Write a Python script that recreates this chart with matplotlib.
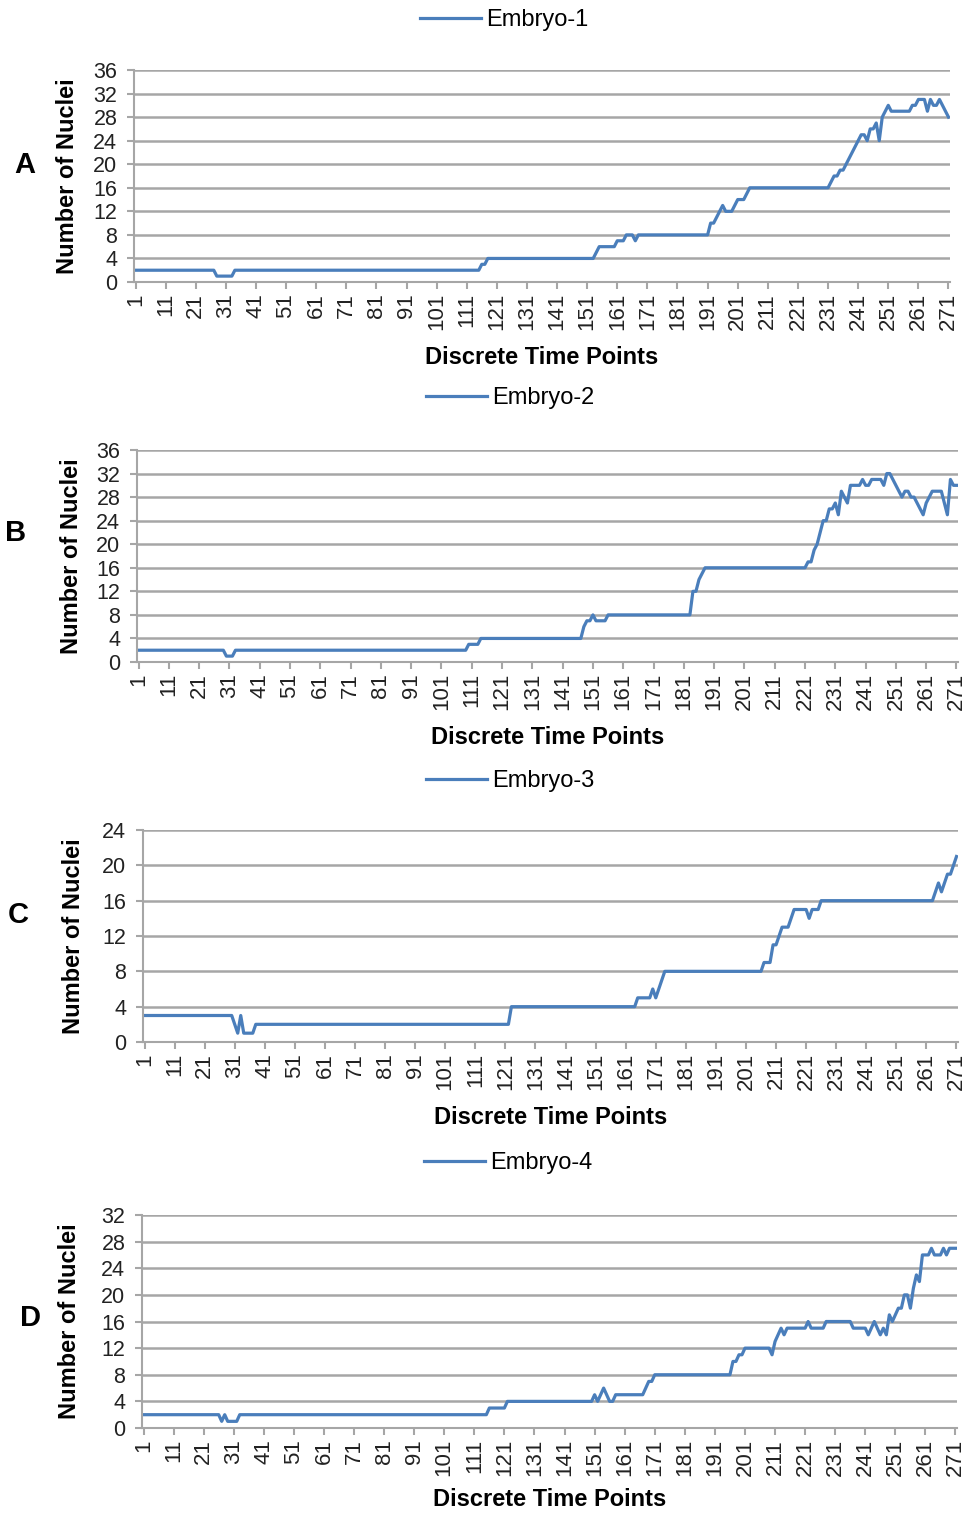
import numpy as np
from matplotlib import pyplot as plt


###################################################################################################
# Data: number of nuclei per time point, stored as runs (value, run length)

n_points = 271
tick_labels = [str(t) for t in range(1, 272, 10)]

# Embryo-1
a_vals = [2, 1, 2, 3, 4, 5, 6, 7, 8, 7, 8,
          10, 10, 11, 12, 13, 12, 12, 12, 13, 14, 14, 14, 15, 16,
          17, 18, 18, 19, 19, 20, 21, 22, 23, 24, 25, 25, 24, 26, 26, 27, 24, 28, 29, 30, 29,
          30, 30, 31, 31, 31, 29, 31, 30, 30, 31, 30, 29, 28]
a_runs = [27, 6, 82, 2, 36, 1, 6, 3, 3, 1, 24,
          1, 1, 1, 1, 1, 1, 1, 1, 1, 1, 1, 1, 1, 27,
          1, 1, 1, 1, 1, 1, 1, 1, 1, 1, 1, 1, 1, 1, 1, 1, 1, 1, 1, 1, 7,
          1, 1, 1, 1, 1, 1, 1, 1, 1, 1, 1, 1, 1]

# Embryo-2
b_vals = [2, 1, 2, 3, 4, 6, 7, 7, 8, 7, 8, 12, 12, 14, 15, 16,
          17, 17, 19, 20, 22, 24, 24, 26, 26, 27, 25, 29, 28, 27, 30, 30, 30, 30, 31, 30, 30,
          31, 31, 31, 31, 30, 32, 32, 31, 30, 29, 28, 29, 29, 28, 28, 27, 26, 25, 27, 28,
          29, 29, 29, 29, 27, 25, 31, 30, 30]
b_runs = [29, 3, 77, 4, 34, 1, 1, 1, 1, 4, 28, 1, 1, 1, 1, 34,
          1, 1, 1, 1, 1, 1, 1, 1, 1, 1, 1, 1, 1, 1, 1, 1, 1, 1, 1, 1, 1,
          1, 1, 1, 1, 1, 1, 1, 1, 1, 1, 1, 1, 1, 1, 1, 1, 1, 1, 1, 1,
          1, 1, 1, 1, 1, 1, 1, 1, 1]

# Embryo-3
c_vals = [3, 2, 1, 3, 1, 2, 4, 5, 6, 5, 6, 7, 8,
          9, 9, 9, 11, 11, 12, 13, 13, 13, 14, 15, 14, 15, 16,
          17, 18, 17, 18, 19, 19, 20, 21]
c_runs = [30, 1, 1, 1, 4, 85, 42, 5, 1, 1, 1, 1, 33,
          1, 1, 1, 1, 1, 1, 1, 1, 1, 1, 5, 1, 3, 38,
          1, 1, 1, 1, 1, 1, 1, 1]

# Embryo-4
d_vals = [2, 1, 2, 1, 2, 3, 4, 5, 4, 5, 6, 5, 4, 5, 6, 7, 7, 8,
          10, 10, 11, 11, 12, 11, 13, 14, 15, 14, 15, 16, 15, 16, 15,
          14, 15, 16, 15, 14, 15, 14, 17, 16, 17, 18, 18, 20, 20, 18, 21, 23, 22,
          26, 26, 26, 27, 26, 26, 26, 27, 26, 27, 27, 27]
d_runs = [26, 1, 1, 4, 83, 6, 29, 1, 1, 1, 1, 1, 2, 10, 1, 1, 1, 26,
          1, 1, 1, 1, 9, 1, 1, 1, 1, 1, 7, 1, 5, 9, 5,
          1, 1, 1, 1, 1, 1, 1, 1, 1, 1, 1, 1, 1, 1, 1, 1, 1, 1,
          1, 1, 1, 1, 1, 1, 1, 1, 1, 1, 1, 1]

embryo_names = ['Embryo-1', 'Embryo-2', 'Embryo-3', 'Embryo-4']
panel_letters = ['A', 'B', 'C', 'D']
y_max = [36, 36, 24, 32]


###################################################################################################
# Layout (pixel boxes of the four plot areas in a 968 x 1516 picture)

W, H = 968, 1516
LINE_COLOR = '#4a7ebb'
GRID_COLOR = '#a6a6a6'
FONT = ['Liberation Sans Narrow', 'Liberation Sans', 'DejaVu Sans']

# left, right, top, bottom of plot area; legend centre (x, y); letter (x, y); ylabel x; xlabel y
panels = [
    dict(box=(134, 950, 70, 282), leg=(504, 20), letter=(25, 165), ylab=67, xlab=358),
    dict(box=(137, 958, 450, 662), leg=(510, 398), letter=(16, 533), ylab=72, xlab=737),
    dict(box=(143, 958, 830, 1042), leg=(510, 781), letter=(18, 915), ylab=73, xlab=1118),
    dict(box=(142, 957, 1215, 1428), leg=(508, 1163), letter=(30, 1318), ylab=70, xlab=1500),
]


def expand(vals, runs):
    y = np.repeat(vals, runs)
    assert len(y) == n_points
    return y


# Draw one embryo panel
def plot_panel(fig, series, name, letter, ymax, p):
    l, r, t, b = p['box']
    ax = fig.add_axes([l / W, 1 - b / H, (r - l) / W, (b - t) / H])
    x = np.arange(1, n_points + 1)
    ax.plot(x, series, color=LINE_COLOR, lw=2.3, label=name, solid_joinstyle='round')

    ax.set_xlim(0.5, n_points + 0.5)
    ax.set_ylim(0, ymax)
    ax.set_yticks(np.arange(0, ymax + 1, 4))
    ax.set_xticks(np.arange(1, n_points + 1, 10))
    ax.set_xticklabels(tick_labels, rotation=90, fontfamily=FONT, fontsize=16)
    for lab in ax.get_yticklabels():
        lab.set_fontfamily(FONT)
        lab.set_fontsize(15.5)

    ax.grid(axis='y', color=GRID_COLOR, lw=1.8)
    ax.set_axisbelow(True)
    for side in ['top', 'right']:
        ax.spines[side].set_visible(False)
    for side in ['left', 'bottom']:
        ax.spines[side].set_color(GRID_COLOR)
        ax.spines[side].set_linewidth(1.5)
    ax.tick_params(axis='both', color=GRID_COLOR, length=5, width=1.5, labelcolor='#222222')
    ax.tick_params(axis='y', pad=7)
    ax.tick_params(axis='x', pad=3)

    ax.set_ylabel('Number of Nuclei', fontfamily=FONT, fontsize=17, fontweight='bold', va='center')
    ax.yaxis.set_label_coords((p['ylab'] - l) / (r - l), 0.5)
    ax.set_xlabel('Discrete Time Points', fontfamily=FONT, fontsize=17, fontweight='bold', va='center')
    ax.xaxis.set_label_coords(0.5, (b - p['xlab']) / (b - t))

    lx, ly = p['leg']
    ax.legend(loc='center', bbox_to_anchor=(lx / W, 1 - ly / H), bbox_transform=fig.transFigure,
              frameon=False, handlelength=2.6, handletextpad=0.2,
              prop={'family': FONT, 'size': 17})

    fx, fy = p['letter']
    fig.text(fx / W, 1 - fy / H, letter, fontfamily=FONT, fontsize=21, fontweight='bold',
             ha='center', va='center')
    return ax


###################################################################################################

fig = plt.figure(figsize=(W / 100, H / 100), dpi=100)
all_series = [expand(a_vals, a_runs), expand(b_vals, b_runs),
              expand(c_vals, c_runs), expand(d_vals, d_runs)]
for k in range(4):
    plot_panel(fig, all_series[k], embryo_names[k], panel_letters[k], y_max[k], panels[k])

fig.savefig('out.png', dpi=100)
